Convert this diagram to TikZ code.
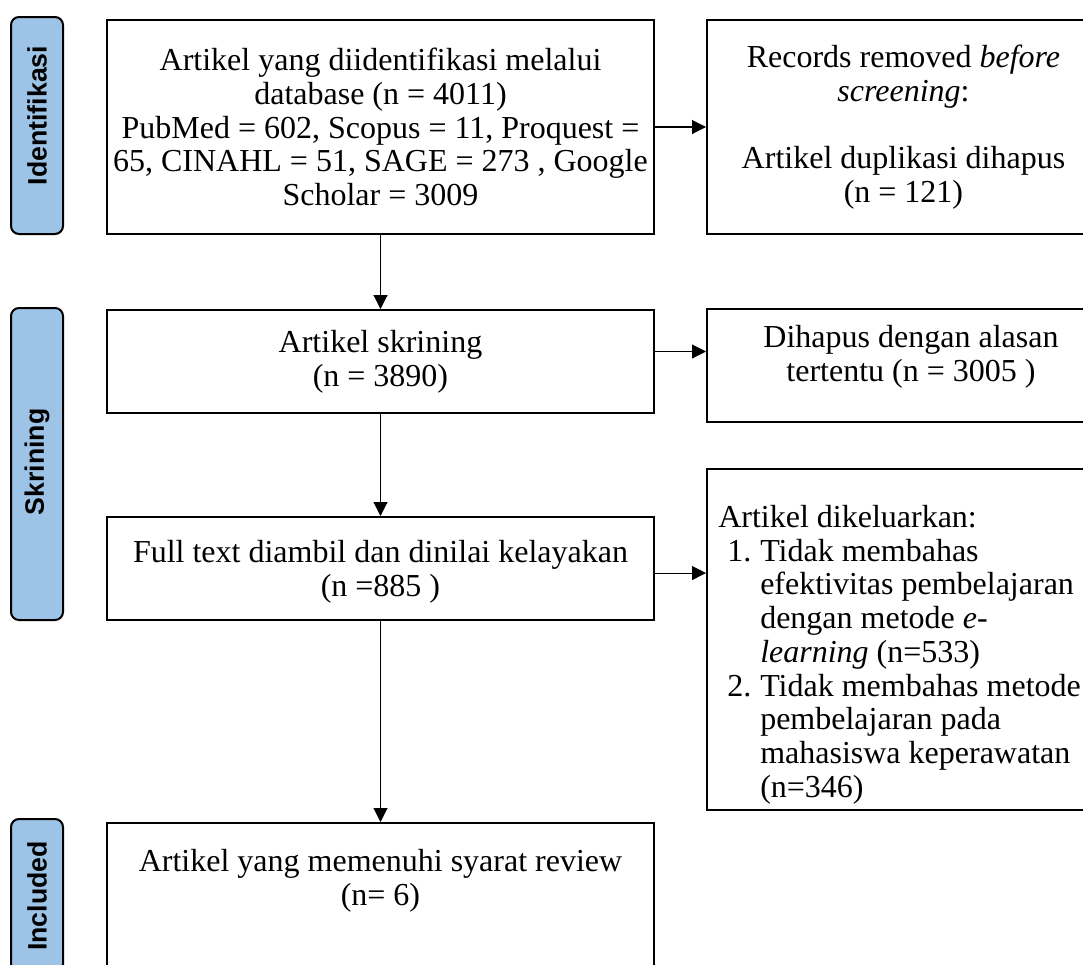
\documentclass[tikz,border=0pt]{standalone}
\usepackage{fontspec}
\setmainfont{Liberation Serif}
\newfontfamily\labelfont{Liberation Sans}
\usetikzlibrary{arrows.meta}
\begin{document}
\begin{tikzpicture}[x=0.75pt,y=-0.75pt,
  box/.style={draw=black,line width=1.5pt,inner sep=0pt,align=center,
    font=\fontsize{24}{25.3}\selectfont},
  phase/.style={draw=black,line width=1.5pt,fill=phaseblue,rounded corners=6pt,
    rotate=90,inner sep=0pt,font=\labelfont\bfseries\fontsize{20}{22}\selectfont},
  txt/.style={inner sep=0pt,font=\fontsize{24}{25.3}\selectfont},
  arr/.style={line width=0.8pt,-{Triangle[length=10.5pt,width=10.5pt]}}]
\definecolor{phaseblue}{HTML}{9DC3E6}
\useasboundingbox (0,0) rectangle (1083,965);
% phase labels
\node[phase,minimum width=162.75pt,minimum height=39pt] (pid) at (37,125.5) {\hspace*{15pt}Identifikasi};
\node[phase,minimum width=234pt,minimum height=39pt] (psk) at (37,464) {\hspace*{3pt}Skrining};
\node[phase,minimum width=115.5pt,minimum height=39pt] (pin) at (37,896) {Included};
% boxes
\node[box,minimum width=410.25pt,minimum height=160.5pt] (b1) at (380.5,127)
  {Artikel yang diidentifikasi melalui\\ database (n = 4011)\\ PubMed = 602, Scopus = 11, Proquest =\\ 65, CINAHL = 51, SAGE = 273 , Google\\ Scholar = 3009};
\node[box,minimum width=294.75pt,minimum height=160.5pt] (b2) at (903.5,127)
  {Records removed \textit{before}\\ \textit{screening}:\\ ~\\ Artikel duplikasi dihapus\\ (n = 121)};
\node[box,minimum width=410.25pt,minimum height=77.25pt] (b3) at (380.5,361.5)
  {Artikel skrining\\ (n = 3890)};
\node[box,minimum width=302.25pt,minimum height=84.75pt] (b4) at (908.5,365.5) {};
\node[txt,align=center] (t4) at (911,357)
  {Dihapus dengan alasan\\ tertentu (n = 3005 )};
\node[box,minimum width=410.25pt,minimum height=77.25pt] (b5) at (380.5,568.5) {};
\node[txt,align=center] (t5) at (380.5,572)
  {Full text diambil dan dinilai kelayakan\\ (n =885 )};
\node[box,minimum width=302.25pt,minimum height=255.75pt] (b6) at (908.5,639.5) {};
\node[txt,anchor=north west,align=left] (t6) at (718,505)
  {Artikel dikeluarkan:\\
   \hspace*{6.75pt}\makebox[24.75pt][l]{1.}Tidak membahas\\
   \hspace*{31.5pt}efektivitas pembelajaran\\
   \hspace*{31.5pt}dengan metode \textit{e-}\\
   \hspace*{31.5pt}\textit{learning} (n=533)\\
   \hspace*{6.75pt}\makebox[24.75pt][l]{2.}Tidak membahas metode\\
   \hspace*{31.5pt}pembelajaran pada\\
   \hspace*{31.5pt}mahasiswa keperawatan\\
   \hspace*{31.5pt}(n=346)};
\node[box,minimum width=410.25pt,minimum height=125.25pt] (b7) at (380.5,906.5) {};
\node[txt,align=center] (t7) at (380.5,881)
  {Artikel yang memenuhi syarat review\\ (n= 6)};
% connectors
\draw[arr] (b1.south) -- (b3.north);
\draw[arr] (b3.south) -- (b5.north);
\draw[arr] (b5.south) -- (b7.north);
\draw[arr] (b1.east) -- (b1.east -| b2.west);
\path ([yshift=7.5pt]b3.east) coordinate (a3);
\draw[arr] (a3) -- (a3 -| b4.west);
\path ([yshift=-3.4pt]b5.east) coordinate (a5);
\draw[arr] (a5) -- (a5 -| b6.west);
\end{tikzpicture}
\end{document}
